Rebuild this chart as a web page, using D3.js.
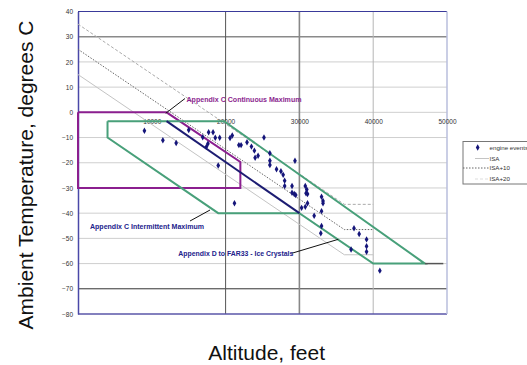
<!DOCTYPE html>
<html>
<head>
<meta charset="utf-8">
<script src="https://cdn.jsdelivr.net/npm/d3@7"></script>
<style>
  body { margin: 0; background: #fff; }
  svg { display: block; font-family: "Liberation Sans", Arial, sans-serif; }
</style>
</head>
<body>
<div id="chart"></div>
<script>
// engine events (altitude ft, temperature C)
const eventAlt = [9000, 11500, 13300, 15000, 16900, 17700, 18300, 18600, 19200, 17600, 17400, 19000,
  20600, 20900, 21800, 22100, 22900, 23500, 23900, 24000, 24400, 25200, 26000, 26000, 26000,
  26900, 27500, 27800, 29400, 28000, 28000, 29000, 29000, 29300, 29500, 30800, 31000, 30900,
  31100, 30300, 30800, 31100, 33000, 33200, 33200, 33000, 32000, 33000, 32900, 37400, 38100,
  39100, 39100, 39100, 37000, 40900, 21200];
const eventTemp = [-7.3, -11.1, -12.2, -7.0, -9.9, -7.9, -7.9, -10.1, -10.1, -12.5, -13.7, -21.1,
  -10.2, -9.2, -13.0, -13.0, -11.9, -13.6, -15.2, -18.0, -17.2, -10.0, -16.2, -19.2, -20.9,
  -22.6, -23.4, -24.8, -19.2, -27.1, -29.2, -29.2, -31.9, -32.4, -32.8, -29.2, -30.6, -32.1,
  -32.4, -37.9, -37.5, -36.1, -33.5, -35.2, -36.1, -39.2, -41.0, -45.1, -48.0, -46.0, -48.3,
  -50.4, -53.1, -55.3, -54.4, -62.8, -36.1];

// standard atmosphere lines
const isaAlt = [0, 36089, 40000];
const isaTemp = [15, -56.5, -56.5];
const isa10Temp = [25, -46.5, -46.5];
const isa20Temp = [35, -36.5, -36.5];

// Appendix C continuous maximum envelope
const contAlt = [0, 12000, 22000, 22000, 0, 0];
const contTemp = [0, 0, -19.7, -30, -30, 0];

// Appendix D ice crystal envelope
const iceAlt = [4000, 19800, 47000, 40000, 30000, 19000, 4000, 4000];
const iceTemp = [-3.5, -3.5, -60, -60, -40, -40, -10, -3.5];
const iceTailAlt = [47000, 49500];
const iceTailTemp = [-60, -60];

// intermittent maximum line
const interAlt = [12000, 30000];
const interTemp = [-3.5, -40];

const xTicks = [10000, 20000, 30000, 40000, 50000];
const yTicks = [40, 30, 20, 10, 0, -10, -20, -30, -40, -50, -60, -70, -80];
const legendLabels = ["engine events", "ISA", "ISA+10", "ISA+20"];

const W = 527, H = 365;
const margin = {top: 11.5, right: 80, bottom: 51, left: 78};

const svg = d3.select("#chart").append("svg")
  .attr("width", W).attr("height", H);

const x = d3.scaleLinear().domain([0, 50000]).range([margin.left, W - margin.right]);
const y = d3.scaleLinear().domain([-80, 40]).range([H - margin.bottom, margin.top]);

// grid lines
const hGridColor = v => v === 30 ? "#8a8a8a" : v === -70 ? "#333" : "#cfcfcf";
svg.append("g").selectAll("line")
  .data(yTicks.filter(v => v !== 40 && v !== -80))
  .join("line")
  .attr("x1", x(0)).attr("x2", x(50000))
  .attr("y1", d => y(d)).attr("y2", d => y(d))
  .attr("stroke", hGridColor)
  .attr("stroke-width", d => d === 30 ? 1.6 : 1);

const vGridColor = {20000: "#555", 30000: "#888", 40000: "#b5b5b5"};
svg.append("g").selectAll("line")
  .data([20000, 30000, 40000])
  .join("line")
  .attr("x1", d => x(d)).attr("x2", d => x(d))
  .attr("y1", y(40)).attr("y2", y(-80))
  .attr("stroke", d => vGridColor[d])
  .attr("stroke-width", d => d === 30000 ? 1.6 : 1);

// plot frame
svg.append("line").attr("x1", x(0)).attr("x2", x(50000)).attr("y1", y(40)).attr("y2", y(40))
  .attr("stroke", "#3a3a9a").attr("stroke-width", 1.2);
svg.append("line").attr("x1", x(0)).attr("x2", x(50000)).attr("y1", y(-80)).attr("y2", y(-80))
  .attr("stroke", "#5a56a8").attr("stroke-width", 1.5);
svg.append("line").attr("x1", x(50000)).attr("x2", x(50000)).attr("y1", y(40)).attr("y2", y(-80))
  .attr("stroke", "#b8bedc").attr("stroke-width", 1.5);

// axes
const yAxis = svg.append("g")
  .attr("transform", `translate(${x(0)},0)`)
  .call(d3.axisLeft(y).tickValues(yTicks).tickSize(0).tickPadding(5));
yAxis.select(".domain").attr("stroke", "#4a48a8").attr("stroke-width", 1.5);
yAxis.selectAll("text").attr("font-size", 6.5).attr("fill", "#333");

const xAxis = svg.append("g")
  .attr("transform", `translate(0,${y(0)})`)
  .call(d3.axisBottom(x).tickValues(xTicks).tickFormat(d3.format("d")).tickSize(0).tickPadding(7));
xAxis.select(".domain").remove();
xAxis.selectAll("text").attr("font-size", 6.5).attr("fill", "#333");

const line = d3.line().x(d => x(d[0])).y(d => y(d[1]));
const pairs = (a, b) => a.map((v, i) => [v, b[i]]);

// ISA lines
svg.append("path").attr("d", line(pairs(isaAlt, isaTemp)))
  .attr("fill", "none").attr("stroke", "#c4c4c4").attr("stroke-width", 1);
svg.append("path").attr("d", line(pairs(isaAlt, isa10Temp)))
  .attr("fill", "none").attr("stroke", "#666").attr("stroke-width", 1).attr("stroke-dasharray", "1.5,1.5");
svg.append("path").attr("d", line(pairs(isaAlt, isa20Temp)))
  .attr("fill", "none").attr("stroke", "#aaa").attr("stroke-width", 1).attr("stroke-dasharray", "3,2");

// envelopes
svg.append("path").attr("d", line(pairs(contAlt, contTemp)))
  .attr("fill", "none").attr("stroke", "#8b1f8f").attr("stroke-width", 2);
svg.append("path").attr("d", line(pairs(iceAlt, iceTemp)))
  .attr("fill", "none").attr("stroke", "#48a07a").attr("stroke-width", 2);
svg.append("path").attr("d", line(pairs(iceTailAlt, iceTailTemp)))
  .attr("fill", "none").attr("stroke", "#555").attr("stroke-width", 1.5);
svg.append("path").attr("d", line(pairs(interAlt, interTemp)))
  .attr("fill", "none").attr("stroke", "#1c1c72").attr("stroke-width", 2);

// engine events
svg.append("g").selectAll("path")
  .data(pairs(eventAlt, eventTemp))
  .join("path")
  .attr("transform", d => `translate(${x(d[0])},${y(d[1])})`)
  .attr("d", d3.symbol(d3.symbolDiamond, 12))
  .attr("fill", "#15157a");

// annotations
const notes = [
  {text: "Appendix C Continuous Maximum", tx: 186.5, ty: 102, w: 115, color: "#8b1f8f",
   from: [165.7, 113.3], to: [185, 98.5]},
  {text: "Appendix C Intermittent Maximum", tx: 90, ty: 228.5, w: 114, color: "#22228c",
   from: [210, 210], to: [190, 221]},
  {text: "Appendix D to FAR33 - Ice Crystals", tx: 178.3, ty: 256, w: 115, color: "#22228c",
   from: [338.3, 239.3], to: [291.7, 253.3]}
];
notes.forEach(n => {
  svg.append("line")
    .attr("x1", n.from[0]).attr("y1", n.from[1]).attr("x2", n.to[0]).attr("y2", n.to[1])
    .attr("stroke", "#111").attr("stroke-width", 1);
  svg.append("text")
    .attr("x", n.tx).attr("y", n.ty)
    .attr("font-size", 7).attr("font-weight", "bold")
    .attr("textLength", n.w).attr("lengthAdjust", "spacingAndGlyphs")
    .attr("fill", n.color)
    .text(n.text);
});

// axis titles
svg.append("text")
  .attr("transform", `translate(33.3,175) rotate(-90)`)
  .attr("text-anchor", "middle")
  .attr("font-size", 21).attr("fill", "#111")
  .text("Ambient Temperature, degrees C");
svg.append("text")
  .attr("x", 266.7).attr("y", 360)
  .attr("text-anchor", "middle")
  .attr("font-size", 21).attr("fill", "#111")
  .text("Altitude, feet");

// legend
const legend = svg.append("g").attr("transform", "translate(463,141.5)");
legend.append("rect").attr("width", 80).attr("height", 42.5)
  .attr("fill", "#fff").attr("stroke", "#777").attr("stroke-width", 1);
const rowY = [6, 17, 26.5, 37.5];
legend.append("path")
  .attr("transform", `translate(14.7,${rowY[0]})`)
  .attr("d", d3.symbol(d3.symbolDiamond, 12))
  .attr("fill", "#15157a");
legend.append("line").attr("x1", 12).attr("x2", 26).attr("y1", rowY[1]).attr("y2", rowY[1])
  .attr("stroke", "#c4c4c4");
legend.append("line").attr("x1", 0).attr("x2", 26).attr("y1", rowY[2]).attr("y2", rowY[2])
  .attr("stroke", "#666").attr("stroke-dasharray", "1.5,1.5");
legend.append("line").attr("x1", 12).attr("x2", 26).attr("y1", rowY[3]).attr("y2", rowY[3])
  .attr("stroke", "#ddd").attr("stroke-dasharray", "3,2");
legend.selectAll("text")
  .data(legendLabels)
  .join("text")
  .attr("x", 26.5)
  .attr("y", (d, i) => rowY[i] + 2.2)
  .attr("font-size", 6.2).attr("fill", "#333")
  .text(d => d);
</script>
</body>
</html>
